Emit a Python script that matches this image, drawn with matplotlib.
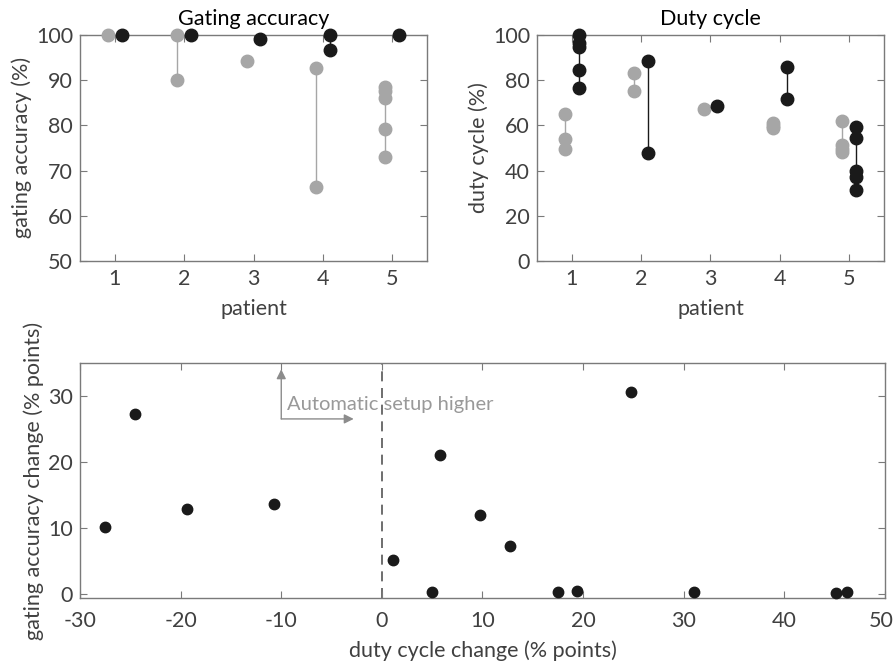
import matplotlib
matplotlib.use("Agg")
import matplotlib.pyplot as plt
from matplotlib.transforms import ScaledTranslation

plt.rcParams['font.family'] = ['Lato', 'DejaVu Sans']
plt.rcParams['axes.unicode_minus'] = False

# ---------------- dados ----------------
patients = [1, 2, 3, 4, 5]

# cinza = setup manual, preto = setup automatico
acc_manual = [[100], [100, 90], [94.3], [92.7, 66.3], [88.5, 87.6, 86.1, 79.2, 72.9]]
acc_auto = [[100], [100], [99.1], [100, 96.7], [100]]

duty_manual = [[64.9, 53.8, 49.6], [83.2, 75.2], [67.3], [61.1, 59.5, 58.6], [62.0, 51.2, 49.7, 48.2]]
duty_auto = [[100, 96.2, 94.7, 84.4, 76.3], [88.2, 47.8], [68.3], [85.6, 71.4], [59.3, 54.3, 39.8, 37.2, 31.3]]

duty_change = [-27.5, -24.5, -19.4, -10.7, 1.1, 5.0, 5.8, 9.8, 12.7, 17.5, 19.4, 24.8, 31.0, 45.1, 46.2]
acc_change = [10.1, 27.3, 12.9, 13.7, 5.2, 0.3, 21.0, 12.0, 7.3, 0.3, 0.5, 30.5, 0.3, 0.2, 0.3]

GREY = '#a6a6a6'
BLACK = '#1a1a1a'
TXT = '#404040'
SPINE = '#7a7a7a'
FS = 15.5


def estilo(ax, xpad=6):
    for s in ax.spines.values():
        s.set_color(SPINE)
        s.set_linewidth(1.0)
    ax.tick_params(direction='in', top=True, right=True, length=5, width=0.8,
                   color=SPINE, labelcolor=TXT, labelsize=FS)
    ax.tick_params(axis='x', pad=xpad)
    ax.tick_params(axis='y', pad=5)


def grupos(ax, manual, auto, off=0.1):
    for p, vm, va in zip(patients, manual, auto):
        ax.plot([p - off] * 2, [min(vm), max(vm)], color=GREY, lw=1.0, zorder=2)
        ax.plot([p - off] * len(vm), vm, 'o', color=GREY, ms=9, zorder=3, clip_on=False)
        ax.plot([p + off] * 2, [min(va), max(va)], color=BLACK, lw=1.0, zorder=2)
        ax.plot([p + off] * len(va), va, 'o', color=BLACK, ms=9, zorder=4, clip_on=False)


fig = plt.figure(figsize=(8.95, 6.63), dpi=100)

# ---------------- Gating accuracy ----------------
ax1 = fig.add_axes([0.0894, 0.6063, 0.3877, 0.3413])
grupos(ax1, acc_manual, acc_auto)
ax1.set_xlim(0.5, 5.5)
ax1.set_ylim(50, 100)
ax1.set_xticks(patients)
ax1.set_yticks(range(50, 101, 10))
ax1.set_title('Gating accuracy', fontsize=FS, color='black', pad=7)
ax1.set_xlabel('patient', fontsize=FS, color=TXT, labelpad=7)
ax1.set_ylabel('gating accuracy (%)', fontsize=FS, color=TXT, labelpad=3)
estilo(ax1)

# ---------------- Duty cycle ----------------
ax2 = fig.add_axes([0.600, 0.6063, 0.3877, 0.3413])
grupos(ax2, duty_manual, duty_auto)
ax2.set_xlim(0.5, 5.5)
ax2.set_ylim(0, 100)
ax2.set_xticks(patients)
ax2.set_yticks(range(0, 101, 20))
ax2.set_title('Duty cycle', fontsize=FS, color='black', pad=7)
ax2.set_xlabel('patient', fontsize=FS, color=TXT, labelpad=7)
ax2.set_ylabel('duty cycle (%)', fontsize=FS, color=TXT, labelpad=3)
estilo(ax2)

# ---------------- Mudancas ----------------
ax3 = fig.add_axes([0.0894, 0.0976, 0.8994, 0.3554])
ax3.plot(duty_change, acc_change, 'o', color=BLACK, ms=7.5, zorder=3, clip_on=False)
ax3.axvline(0, color='#555555', lw=1.2, ls=(0, (6, 4)), zorder=1)
ax3.set_xlim(-30, 50)
ax3.set_ylim(-0.6, 35)
ax3.set_xticks(range(-30, 51, 10))
ax3.set_yticks(range(0, 31, 10))
ax3.set_xlabel('duty cycle change (% points)', fontsize=FS, color=TXT, labelpad=7)
ax3.set_ylabel('gating accuracy change (% points)', fontsize=FS, color=TXT, labelpad=3)
estilo(ax3, xpad=9)

# ultimo rotulo do eixo x fica colado na borda, puxa um pouco pra esquerda
fig.canvas.draw()
ultimo = ax3.get_xticklabels()[-1]
ultimo.set_transform(ultimo.get_transform() + ScaledTranslation(-4 / 100, 0, fig.dpi_scale_trans))

seta = dict(arrowstyle='-|>', color='#8c8c8c', lw=1.0, mutation_scale=14, shrinkA=0, shrinkB=0)
ax3.annotate('', xy=(-10, 34.0), xytext=(-10, 26.5), arrowprops=seta)
ax3.annotate('', xy=(-2.8, 26.5), xytext=(-10, 26.5), arrowprops=seta)
ax3.text(-9.4, 28.7, 'Automatic setup higher', fontsize=14.5, color='#999999',
         ha='left', va='center', zorder=0)

fig.savefig('out.png', dpi=100)
